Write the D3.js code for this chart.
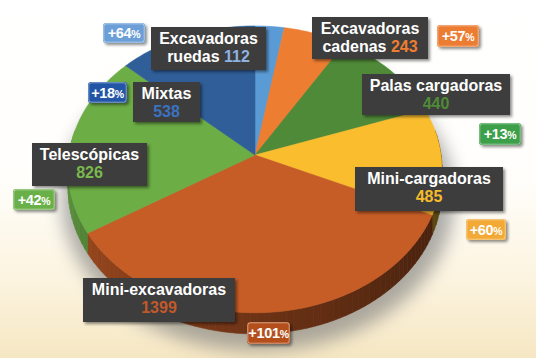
<!DOCTYPE html>
<html>
<head>
<meta charset="utf-8">
<script src="https://cdn.jsdelivr.net/npm/d3@7"></script>
<style>
  html, body { margin: 0; padding: 0; background: #fff; }
  svg { display: block; }
  text { font-family: "Liberation Sans", Arial, sans-serif; font-weight: 700; }
</style>
</head>
<body>
<svg id="chart" width="536" height="358"></svg>
<script>
// ---------- data ----------
const categories = ["Excavadoras ruedas", "Excavadoras cadenas", "Palas cargadoras", "Mini-cargadoras", "Mini-excavadoras", "Telescópicas", "Mixtas"];
const labelLine1 = ["Excavadoras", "Excavadoras", "Palas cargadoras", "Mini-cargadoras", "Mini-excavadoras", "Telescópicas", "Mixtas"];
const labelLine2 = ["ruedas", "cadenas", "", "", "", "", ""];
const values = [112, 243, 440, 485, 1399, 826, 538];
const changes = ["+64", "+57", "+13", "+60", "+101", "+42", "+18"];

// ---------- styles ----------
const sliceColors  = ["#5b9bd5", "#ed7d31", "#4f8a38", "#f9bd2e", "#c65c26", "#6cad46", "#2f5e98"];
const numberColors = ["#8db4e0", "#ee7d32", "#4f8b37", "#f5bb2a", "#c2592a", "#7ab94c", "#3b73c2"];
const badgeColors  = ["#6c9fd8", "#ec7b30", "#3e9f48", "#f2a934", "#b4501f", "#6bb04a", "#2454a5"];

// ---------- layout (label boxes / badges: x, y, w, h) ----------
const boxLayout = [[151, 27, 115, 43], [312, 17, 116, 42], [362, 74, 148, 41], [355, 167, 148, 44], [83, 278, 152, 44], [32, 143, 115, 43], [133, 82, 67, 40]];
const badgeLayout = [[103, 23, 42, 20], [437, 25, 42, 22], [479, 123, 42, 22], [466, 219, 40, 21], [247, 322, 43, 22], [13, 189, 42, 21], [88, 82, 39, 21]];

const W = 536, H = 358;
const svg = d3.select("#chart");
const defs = svg.append("defs");

const bg = defs.append("linearGradient").attr("id", "bg").attr("x1", 0).attr("y1", 0).attr("x2", 0).attr("y2", 1);
bg.append("stop").attr("offset", "0%").attr("stop-color", "#ffffff");
bg.append("stop").attr("offset", "50%").attr("stop-color", "#fffefb");
bg.append("stop").attr("offset", "78%").attr("stop-color", "#fcf4e0");
bg.append("stop").attr("offset", "100%").attr("stop-color", "#f6e7c3");
svg.append("rect").attr("width", W).attr("height", H).attr("fill", "url(#bg)");

const blur = defs.append("filter").attr("id", "blur").attr("x", "-30%").attr("y", "-30%").attr("width", "160%").attr("height", "160%");
blur.append("feGaussianBlur").attr("stdDeviation", 9);

const ds = defs.append("filter").attr("id", "ds").attr("x", "-20%").attr("y", "-20%").attr("width", "150%").attr("height", "160%");
ds.append("feDropShadow").attr("dx", 2).attr("dy", 2).attr("stdDeviation", 1.5).attr("flood-color", "#000").attr("flood-opacity", 0.45);

// ---------- projection ----------
const cx = 255, cy = 155, A = 186, B = 142, persp = 0.10, depth = 19;
function P(a, r, h) {
  const u = r * Math.sin(a), v = -r * Math.cos(a);
  const s = 1 / (1 - persp * v);
  return [cx + A * u * s, cy + B * v * s + h * s];
}
const line = d3.line();

const pie = d3.pie().sort(null).value(d => d)(values);

// shadow
const shadowPts = d3.range(0, 361, 3).map(t => {
  const p = P(t * Math.PI / 180, 1.05, depth);
  return [p[0] + 3, p[1] + 8];
});
svg.append("path").attr("d", line(shadowPts) + "Z").attr("fill", "#777777").attr("opacity", 0.6).attr("filter", "url(#blur)");

// side walls
const wallG = svg.append("g");
const lo = 80 * Math.PI / 180, hi = 280 * Math.PI / 180;
pie.forEach((d, i) => {
  const a0 = Math.max(d.startAngle, lo), a1 = Math.min(d.endAngle, hi);
  if (a1 <= a0) return;
  const n = Math.max(1, Math.ceil((a1 - a0) / (2 * Math.PI / 180)));
  for (let k = 0; k < n; k++) {
    const t0 = a0 + (a1 - a0) * k / n, t1 = a0 + (a1 - a0) * (k + 1) / n;
    const tm = (t0 + t1) / 2;
    const f = Math.max(0, Math.min(1, (tm - Math.PI / 2) / Math.PI));
    const bright = 0.33 + 0.55 * Math.pow(f, 1.3);
    const col = d3.interpolateRgb("#000000", sliceColors[i])(bright);
    const pts = [P(t0, 1, 0), P(t1, 1, 0), P(t1, 1, depth), P(t0, 1, depth)];
    wallG.append("path").attr("d", line(pts) + "Z").attr("fill", col).attr("stroke", col).attr("stroke-width", 0.6);
  }
});

// top faces
const topG = svg.append("g");
pie.forEach((d, i) => {
  const n = Math.max(2, Math.ceil((d.endAngle - d.startAngle) / (Math.PI / 180)));
  const pts = [[cx, cy]];
  for (let k = 0; k <= n; k++) pts.push(P(d.startAngle + (d.endAngle - d.startAngle) * k / n, 1, 0));
  topG.append("path").attr("d", line(pts) + "Z").attr("fill", sliceColors[i]).attr("stroke", sliceColors[i]).attr("stroke-width", 0.5).attr("stroke-linejoin", "round");
});

// label boxes (two lines in one text element)
const boxG = svg.append("g");
pie.forEach((d, i) => {
  const [bx, by, bw, bh] = boxLayout[i];
  const g = boxG.append("g");
  g.append("rect").attr("x", bx).attr("y", by).attr("width", bw).attr("height", bh).attr("fill", "#3e3e3e").attr("filter", "url(#ds)");
  const mx = bx + bw / 2;
  const t = g.append("text").attr("x", mx).attr("y", by + 16.5).attr("text-anchor", "middle")
    .attr("font-size", 16).attr("fill", "#ffffff");
  t.append("tspan").attr("x", mx).attr("dy", 0).text(labelLine1[i]);
  const l2 = t.append("tspan").attr("x", mx).attr("dy", 18.6);
  if (labelLine2[i]) l2.append("tspan").text(labelLine2[i] + " ");
  l2.append("tspan").attr("fill", numberColors[i]).text(d.data);
});

// badges
const badgeG = svg.append("g");
changes.forEach((c, i) => {
  const [x, y, w, h] = badgeLayout[i];
  const g = badgeG.append("g");
  g.append("rect").attr("x", x).attr("y", y).attr("width", w).attr("height", h).attr("rx", 3).attr("fill", badgeColors[i]).attr("filter", "url(#ds)");
  g.append("rect").attr("x", x + 0.8).attr("y", y + 0.8).attr("width", w - 1.6).attr("height", h - 1.6).attr("rx", 2.5).attr("fill", "none").attr("stroke", "#ffffff").attr("stroke-opacity", 0.45).attr("stroke-width", 1);
  const t = g.append("text").attr("x", x + w / 2).attr("y", y + h / 2 + 5.2).attr("text-anchor", "middle").attr("fill", "#ffffff")
    .attr("font-size", 14.5).attr("letter-spacing", -0.3);
  t.append("tspan").text(c);
  t.append("tspan").attr("font-size", 10.5).text("%");
});
</script>
</body>
</html>
